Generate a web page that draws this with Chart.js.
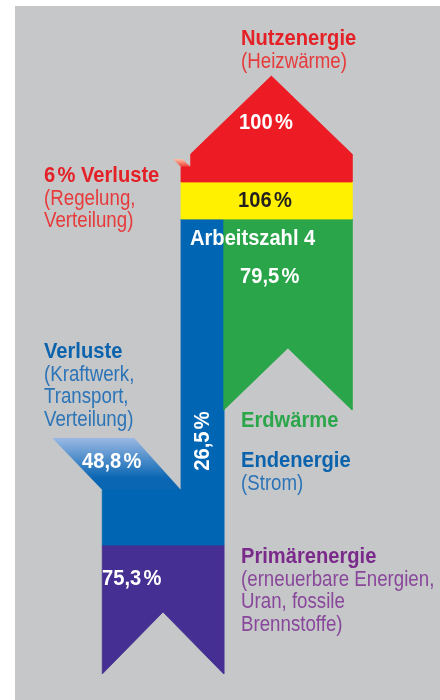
<!DOCTYPE html>
<html>
<head>
<meta charset="utf-8">
<script src="https://cdn.jsdelivr.net/npm/chart.js@4.4.0/dist/chart.umd.min.js"></script>
<style>
  html, body { margin: 0; padding: 0; background: #fff; }
  canvas { display: block; }
</style>
</head>
<body>
<canvas id="chart" width="440" height="700"></canvas>
<script>
// Energy flow of an electric heat pump (Arbeitszahl 4), in % of the useful heat
const flowNames  = ['Nutzenergie', 'Verluste Regelung', 'Wärmepumpe', 'Erdwärme', 'Endenergie', 'Verluste Kraftwerk', 'Primärenergie'];
const flowValues = [100, 6, 106, 79.5, 26.5, 48.8, 75.3];

const captionTitles = ['Nutzenergie', '6 % Verluste', 'Arbeitszahl 4', 'Verluste', 'Erdwärme', 'Endenergie', 'Primärenergie'];
const captionLines  = [
  ['(Heizwärme)'],
  ['(Regelung,', 'Verteilung)'],
  [],
  ['(Kraftwerk,', 'Transport,', 'Verteilung)'],
  [],
  ['(Strom)'],
  ['(erneuerbare Energien,', 'Uran, fossile', 'Brennstoffe)']
];

const [nutz, lossHeat, heat, geo, power, lossPlant, primary] = flowValues;

// vertical layout (y axis runs 0..700 top-down)
const rows = {
  apex: 76, shoulder: 154, stripeTop: 159, notch: 167,
  yellowTop: 182, yellowBottom: 219,
  greenNotch: 348, greenTip: 410,
  bandTop: 438, bandBottom: 490,
  purpleTop: 545, purpleNotch: 612, purpleTip: 674
};
const stripeShift = 5;   // slant of the small loss arrow, in % units
const bandShift = 31;    // slant of the power plant loss band

const pct = v => v.toLocaleString('de-DE') + ' %';

// outlines built from the values
const redShape = [
  [lossHeat, rows.notch], [lossHeat, rows.shoulder], [(lossHeat + heat) / 2, rows.apex],
  [heat, rows.shoulder], [heat, rows.yellowTop], [0, rows.yellowTop], [0, rows.notch]
];
const stripeShape = [
  [0, rows.notch], [lossHeat, rows.notch], [lossHeat - stripeShift, rows.stripeTop], [-stripeShift, rows.stripeTop]
];
const yellowShape = [
  [0, rows.yellowTop], [heat, rows.yellowTop], [heat, rows.yellowBottom], [0, rows.yellowBottom]
];
const greenShape = [
  [power, rows.yellowBottom], [power + geo, rows.yellowBottom], [power + geo, rows.greenTip],
  [power + geo / 2, rows.greenNotch], [power, rows.greenTip]
];
const blueShape = [
  [0, rows.yellowBottom], [power, rows.yellowBottom], [power, rows.purpleTop],
  [power - primary, rows.purpleTop], [power - primary, rows.bandBottom], [0, rows.bandBottom]
];
const bandShape = [
  [-lossPlant, rows.bandBottom], [0, rows.bandBottom], [-bandShift + 2, rows.bandTop], [-lossPlant - bandShift, rows.bandTop]
];
const purpleShape = [
  [power - primary, rows.purpleTop], [power, rows.purpleTop], [power, rows.purpleTip],
  [power - primary / 2, rows.purpleNotch], [power - primary, rows.purpleTip]
];

function toPoints(shape) {
  const pts = shape.map(([x, y]) => ({ x, y }));
  pts.push(pts[0]);
  return pts;
}

function vGradient(y0, y1, c0, c1) {
  return (ctx) => {
    const chart = ctx.chart;
    const ys = chart.scales && chart.scales.y;
    if (!ys || !chart.chartArea) return c1;
    const g = chart.ctx.createLinearGradient(0, ys.getPixelForValue(y0), 0, ys.getPixelForValue(y1));
    g.addColorStop(0, c0);
    g.addColorStop(1, c1);
    return g;
  };
}

function shapeSet(label, shape, color, border) {
  return {
    label,
    data: toPoints(shape),
    showLine: true,
    fill: 'shape',
    tension: 0,
    pointRadius: 0,
    backgroundColor: color,
    borderColor: border || color,
    borderWidth: border === 'none' ? 0 : 0.8
  };
}

const datasets = [
  shapeSet('Nutzenergie', redShape, '#ed1c24'),
  shapeSet('Verluste Regelung', stripeShape, vGradient(rows.stripeTop, rows.notch, '#fac3aa', '#ee3b30'), 'none'),
  shapeSet('Wärmepumpe', yellowShape, '#fff100'),
  shapeSet('Erdwärme', greenShape, '#2aa549'),
  shapeSet('Endenergie', blueShape, '#0066b3'),
  shapeSet('Verluste Kraftwerk', bandShape, vGradient(rows.bandTop, rows.bandBottom - 12, '#9ab9e4', '#0a66b3'), 'none'),
  shapeSet('Primärenergie', purpleShape, '#452f92')
];

const fontFamily = '"Liberation Sans", Arimo, Arial, sans-serif';

function drawText(c, str, x, y, opts) {
  const size = opts.size || 22;
  const sx = opts.squeeze || (opts.bold ? 0.915 : 0.85);
  c.save();
  c.font = (opts.bold ? 'bold ' : '') + size + 'px ' + fontFamily;
  c.fillStyle = opts.color;
  c.textBaseline = 'alphabetic';
  // narrow gap before the percent sign
  const i = str.indexOf(' %');
  const a = i >= 0 ? str.slice(0, i) : str;
  const b = i >= 0 ? str.slice(i + 1) : '';
  const gap = i >= 0 ? 2.5 : 0;
  const w = c.measureText(a).width + gap + (b ? c.measureText(b).width : 0);
  let x0 = x;
  if (opts.align === 'center') x0 = x - w * sx / 2;
  c.translate(x0, y);
  c.scale(sx, 1);
  c.fillText(a, 0, 0);
  if (b) c.fillText(b, c.measureText(a).width + gap, 0);
  c.restore();
}

const red = '#e42127', redLight = '#e63a3b';
const blue = '#0b63ad', blueLight = '#2c74b8';
const green = '#2ca64a';
const purple = '#7a2a8b', purpleLight = '#88479b';

const backdrop = {
  id: 'backdrop',
  beforeDraw(chart) {
    const c = chart.ctx;
    c.save();
    c.fillStyle = '#ffffff';
    c.fillRect(0, 0, chart.width, chart.height);
    c.fillStyle = '#c6c7c8';
    c.fillRect(15, 6, chart.width - 15, chart.height - 6);
    c.restore();
  }
};

const labels = {
  id: 'labels',
  afterDatasetsDraw(chart) {
    const c = chart.ctx;
    const lh = 22.5;
    const block = (k, x, y, col, colLight) => {
      drawText(c, captionTitles[k], x, y, { bold: true, color: col });
      captionLines[k].forEach((t, j) => drawText(c, t, x, y + lh * (j + 1), { color: colLight }));
    };
    block(0, 241, 45, red, redLight);
    block(1, 44, 182, red, redLight);
    block(3, 44, 358, blue, blueLight);
    block(4, 241, 427, green, green);
    block(5, 241, 467, blue, blueLight);
    block(6, 241, 563, purple, purpleLight);
    drawText(c, captionTitles[2], 190, 245, { bold: true, color: '#ffffff' });

    drawText(c, pct(nutz), 266, 129, { bold: true, color: '#ffffff', align: 'center' });
    drawText(c, pct(heat), 265, 207, { bold: true, color: '#231f20', align: 'center' });
    drawText(c, pct(geo), 240, 283, { bold: true, color: '#ffffff' });
    drawText(c, pct(lossPlant), 82, 468, { bold: true, color: '#ffffff' });
    drawText(c, pct(primary), 102, 585, { bold: true, color: '#ffffff' });
    // vertical label in the electricity column, reading upwards
    c.save();
    c.translate(208.5, 441);
    c.rotate(-Math.PI / 2);
    drawText(c, pct(power), 0, 0, { bold: true, color: '#ffffff', align: 'center' });
    c.restore();
  }
};

new Chart(document.getElementById('chart'), {
  type: 'scatter',
  data: { datasets },
  options: {
    responsive: false,
    devicePixelRatio: 1,
    animation: false,
    layout: { padding: 0 },
    scales: {
      x: { type: 'linear', min: -112.2, max: 160.55, display: false },
      y: { type: 'linear', min: 0, max: 700, reverse: true, display: false }
    },
    plugins: {
      legend: { display: false },
      tooltip: { enabled: false },
      title: { display: false }
    },
    events: []
  },
  plugins: [backdrop, labels]
});
</script>
</body>
</html>
